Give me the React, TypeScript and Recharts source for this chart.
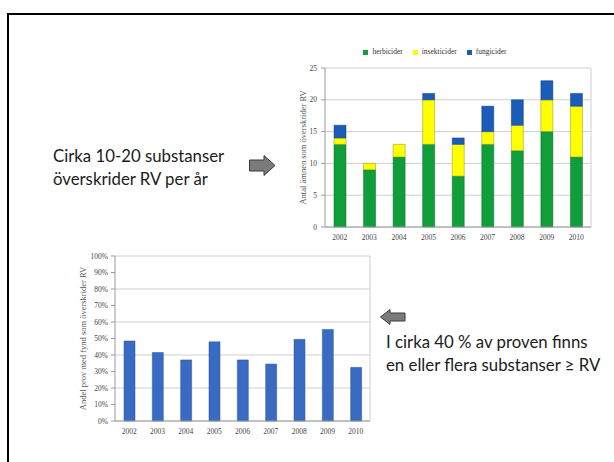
import { BarChart, Bar, XAxis, YAxis, CartesianGrid, Legend } from 'recharts';

// Substances above RV per year, split by type
const years = ['2002', '2003', '2004', '2005', '2006', '2007', '2008', '2009', '2010'];
const herbicider = [13, 9, 11, 13, 8, 13, 12, 15, 11];
const insekticider = [1, 1, 2, 7, 5, 2, 4, 5, 8];
const fungicider = [2, 0, 0, 1, 1, 4, 4, 3, 2];
const countTicks = [0, 5, 10, 15, 20, 25];
const seriesOrder = ['herbicider', 'insekticider', 'fungicider'];

// Share of samples with at least one finding above RV (%)
const shareOfSamples = [48.5, 41.5, 37, 48, 37, 34.5, 49.5, 55.5, 32.5];
const shareTicks = [0, 10, 20, 30, 40, 50, 60, 70, 80, 90, 100];

const substanceData = years.map((year, i) => ({
  year,
  herbicider: herbicider[i],
  insekticider: insekticider[i],
  fungicider: fungicider[i],
}));

const shareData = years.map((year, i) => ({ year, share: shareOfSamples[i] }));

const serif = '"Liberation Serif", "Times New Roman", serif';
const sans = 'Lato, "Open Sans", sans-serif';
const axisGray = '#9a9a9a';
const gridGray = '#cfcfcf';

// outer border of the plot: only the right edge, the left one is the y axis
const rightEdge = ({ offset }: any) => [offset.left + offset.width];

const Arrow = ({ left, top, dir }: { left: number; top: number; dir: 'left' | 'right' }) => {
  const pts =
    dir === 'right'
      ? '0.5,5 15,5 15,0.5 26,10.5 15,20.5 15,16 0.5,16'
      : '0.5,8 10,0.5 10,4 25,4 25,12 10,12 10,15.5';
  return (
    <svg style={{ position: 'absolute', left, top }} width={27} height={22}>
      <polygon points={pts} fill="#7b7b7b" stroke="#3a3a3a" strokeWidth={1} />
    </svg>
  );
};

const textStyle = {
  position: 'absolute' as const,
  fontFamily: sans,
  fontSize: 16.8,
  lineHeight: '23px',
  color: '#1c1c1c',
  whiteSpace: 'nowrap' as const,
};

export default function App() {
  return (
    <div
      style={{
        position: 'absolute',
        left: 0,
        top: 0,
        width: 614,
        height: 462,
        background: '#fff',
        overflow: 'hidden',
      }}
    >
      <div
        style={{
          position: 'absolute',
          left: 7,
          top: 13,
          width: 700,
          height: 500,
          borderTop: '2px solid #000',
          borderLeft: '2px solid #000',
        }}
      />

      <div style={{ ...textStyle, left: 53, top: 144 }}>
        Cirka 10-20 substanser
        <br />
        överskrider RV per år
      </div>
      <Arrow left={249} top={155} dir="right" />

      <div style={{ position: 'absolute', left: 290, top: 40 }}>
        <BarChart
          width={310}
          height={220}
          data={substanceData}
          margin={{ top: 19, right: 9, left: 0, bottom: 3 }}
          barSize={12}
        >
          <CartesianGrid
            stroke={gridGray}
            vertical
            verticalCoordinatesGenerator={rightEdge}
          />
          <Legend
            verticalAlign="top"
            iconType="square"
            iconSize={5}
            itemSorter={(item: any) => seriesOrder.indexOf(item.dataKey)}
            formatter={(value: string) => <span style={{ color: '#333' }}>{value}</span>}
            wrapperStyle={{ top: 7, left: 0, width: 300, fontFamily: serif, fontSize: 7.5 }}
          />
          <XAxis
            dataKey="year"
            axisLine={{ stroke: axisGray }}
            tickLine={false}
            tick={{ fontFamily: serif, fontSize: 7.5, fill: '#444' }}
            height={30}
          />
          <YAxis
            width={35}
            domain={[0, 25]}
            ticks={countTicks}
            axisLine={{ stroke: axisGray }}
            tickLine={{ stroke: axisGray }}
            tickSize={4}
            tickMargin={4}
            tick={{ fontFamily: serif, fontSize: 7.5, fill: '#444' }}
            label={{
              value: 'Antal ämnen som överskrider RV',
              angle: -90,
              position: 'center',
              dx: -5,
              style: { fontFamily: serif, fontSize: 8.5, fill: '#555' },
            }}
          />
          <Bar dataKey="herbicider" stackId="s" fill="#0f9e3a" stroke="#0b6f29" strokeWidth={0.5} isAnimationActive={false} />
          <Bar dataKey="insekticider" stackId="s" fill="#ffff00" stroke="#8c8c3a" strokeWidth={0.5} isAnimationActive={false} />
          <Bar dataKey="fungicider" stackId="s" fill="#1b5cb8" stroke="#123f80" strokeWidth={0.5} isAnimationActive={false} />
        </BarChart>
      </div>

      <div style={{ position: 'absolute', left: 60, top: 245 }}>
        <BarChart
          width={320}
          height={200}
          data={shareData}
          margin={{ top: 11, right: 10, left: 0, bottom: 0 }}
          barSize={11}
        >
          <CartesianGrid
            stroke={gridGray}
            vertical
            verticalCoordinatesGenerator={rightEdge}
          />
          <XAxis
            dataKey="year"
            axisLine={{ stroke: axisGray }}
            tickLine={false}
            tick={{ fontFamily: serif, fontSize: 7.5, fill: '#444' }}
            height={24}
          />
          <YAxis
            width={55}
            domain={[0, 100]}
            ticks={shareTicks}
            tickFormatter={(v: number) => `${v}%`}
            axisLine={{ stroke: axisGray }}
            tickLine={{ stroke: axisGray }}
            tickSize={4}
            tickMargin={3}
            tick={{ fontFamily: serif, fontSize: 7.5, fill: '#444' }}
            label={{
              value: 'Andel prov med fynd som överskrider RV',
              angle: -90,
              position: 'center',
              dx: -5,
              style: { fontFamily: serif, fontSize: 8.5, fill: '#555' },
            }}
          />
          <Bar dataKey="share" fill="#3a6bc2" stroke="#2a529a" strokeWidth={0.5} isAnimationActive={false} />
        </BarChart>
      </div>

      <Arrow left={380} top={309} dir="left" />
      <div style={{ ...textStyle, left: 386, top: 330 }}>
        I cirka 40 % av proven finns
        <br />
        en eller flera substanser ≥ RV
      </div>
    </div>
  );
}
